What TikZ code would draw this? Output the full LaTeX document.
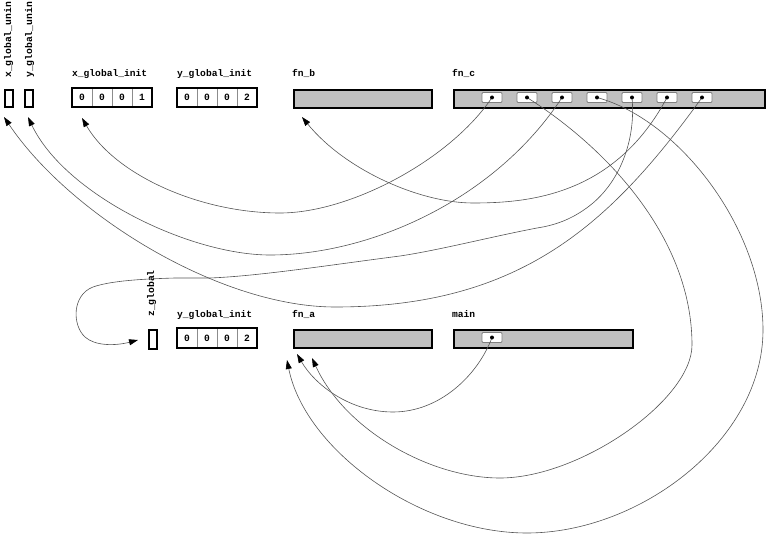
\documentclass[tikz,border=0pt]{standalone}
\usepackage{fontspec}
\setmonofont{Liberation Mono}
\usetikzlibrary{arrows.meta,fit}
\definecolor{boxgray}{RGB}{192,192,192}
\definecolor{linegray}{RGB}{85,85,85}
\definecolor{cellgray}{RGB}{140,140,140}
\begin{document}
\begin{tikzpicture}[x=1pt,y=-1pt,
  lbl/.style={font=\ttfamily\bfseries\fontsize{9.6}{11}\selectfont, inner sep=0pt},
  vlbl/.style={font=\ttfamily\bfseries\fontsize{9.7}{11}\selectfont, inner sep=0pt, rotate=90, anchor=base west},
  cellbox/.style={draw=cellgray, line width=0.6pt, minimum width=20pt, minimum height=19pt, inner sep=0pt,
    font=\ttfamily\bfseries\fontsize{9.6}{11}\selectfont},
  regbox/.style={draw=black, line width=2pt, inner sep=0pt},
  fnbox/.style={draw=black, fill=boxgray, line width=2pt, inner sep=0pt, anchor=north west},
  slotbox/.style={draw=black, line width=1.8pt, inner sep=0pt, anchor=north west, minimum width=8pt},
  ptrbox/.style={draw=gray, fill=white, line width=0.8pt, minimum width=20pt, minimum height=10pt,
    inner sep=0pt, rounded corners=1pt},
  conn/.style={draw=linegray, line width=0.6pt, -{Triangle[length=9pt,width=6pt,color=black]}}]
\useasboundingbox (0,0) rectangle (769,535);

% ---------- top row ----------
\node[slotbox, minimum height=17pt] (xgu) at (4,89) {};
\node[slotbox, minimum height=17pt] (ygu) at (24,89) {};
\node[vlbl] (lxgu) at (11,78) {x\_global\_unin};
\node[vlbl] (lygu) at (32,78) {y\_global\_unin};

\node[lbl, anchor=base west] (lxgi) at (72,77) {x\_global\_init};
\node[cellbox] (xgi1) at (82,97.5) {0};
\node[cellbox] (xgi2) at (102,97.5) {0};
\node[cellbox] (xgi3) at (122,97.5) {0};
\node[cellbox] (xgi4) at (142,97.5) {1};
\node[regbox, fit=(xgi1)(xgi4)] (xgi) {};

\node[lbl, anchor=base west] (lygi) at (177,77) {y\_global\_init};
\node[cellbox] (ygi1) at (187,97.5) {0};
\node[cellbox] (ygi2) at (207,97.5) {0};
\node[cellbox] (ygi3) at (227,97.5) {0};
\node[cellbox] (ygi4) at (247,97.5) {2};
\node[regbox, fit=(ygi1)(ygi4)] (ygi) {};

\node[lbl, anchor=base west] (lfnb) at (292,77) {fn\_b};
\node[fnbox, minimum width=138pt, minimum height=18pt] (fnb) at (293,89) {};

\node[lbl, anchor=base west] (lfnc) at (452,77) {fn\_c};
\node[fnbox, minimum width=311pt, minimum height=18pt] (fnc) at (453,89) {};
\node[ptrbox] (p1) at (492,97.5) {};
\node[ptrbox] (p2) at (527,97.5) {};
\node[ptrbox] (p3) at (562,97.5) {};
\node[ptrbox] (p4) at (597,97.5) {};
\node[ptrbox] (p5) at (632,97.5) {};
\node[ptrbox] (p6) at (667,97.5) {};
\node[ptrbox] (p7) at (702,97.5) {};

% ---------- bottom row ----------
\node[vlbl] (lzg) at (154,317) {z\_global};
\node[slotbox, minimum height=19pt] (zg) at (148,329) {};

\node[lbl, anchor=base west] (lygi2) at (177,317) {y\_global\_init};
\node[cellbox] (yhi1) at (187,338) {0};
\node[cellbox] (yhi2) at (207,338) {0};
\node[cellbox] (yhi3) at (227,338) {0};
\node[cellbox] (yhi4) at (247,338) {2};
\node[regbox, fit=(yhi1)(yhi4)] (ygib) {};

\node[lbl, anchor=base west] (lfna) at (292,317) {fn\_a};
\node[fnbox, minimum width=138pt, minimum height=18pt] (fna) at (293,329) {};

\node[lbl, anchor=base west] (lmain) at (452,317) {main};
\node[fnbox, minimum width=179pt, minimum height=18pt] (main) at (453,329) {};
\node[ptrbox] (pm) at (492,337.5) {};

% ---------- arrow targets ----------
\coordinate (txgu) at (4,117);
\coordinate (tygu) at (28,117);
\coordinate (txgi) at (82,118);
\coordinate (tfnb) at (302,117);
\coordinate (tzg) at (138,340);
\coordinate (tfnaA) at (287,360);
\coordinate (tfnaB) at (297,354);
\coordinate (tfnaC) at (312,358);

% ---------- connectors ----------
\draw[conn] (p1.center) .. controls (450,160) and (350,213) .. (280,213)
  .. controls (200,213) and (115,175) .. (txgi);
\draw[conn] (p2.center) .. controls (610,150) and (692,240) .. (692,345)
  .. controls (692,400) and (580,478) .. (500,478)
  .. controls (430,478) and (345,430) .. (tfnaC);
\draw[conn] (p3.center) .. controls (495,200) and (370,255) .. (270,255)
  .. controls (190,255) and (65,195) .. (tygu);
\draw[conn] (p4.center) .. controls (680,120) and (763,230) .. (763,330)
  .. controls (763,440) and (640,533) .. (527,533)
  .. controls (420,533) and (305,450) .. (tfnaA);
\draw[conn] (p5.center) .. controls (636,140) and (620,180) .. (593,203)
  .. controls (575,218) and (557,225) .. (537,228)
  .. controls (490,237) and (440,250) .. (400,256)
  .. controls (330,265) and (260,276) .. (210,278) -- (175,278)
  .. controls (140,279) and (110,281) .. (93,287)
  .. controls (72,295) and (72,325) .. (85,337)
  .. controls (95,346) and (115,346) .. (tzg);
\draw[conn] (p6.center) .. controls (615,195) and (530,203) .. (473,203)
  .. controls (420,203) and (345,170) .. (tfnb);
\draw[conn] (p7.center) .. controls (610,225) and (520,307) .. (335,307)
  .. controls (220,307) and (70,215) .. (txgu);
\draw[conn] (pm.center) .. controls (478,375) and (440,412) .. (393,412)
  .. controls (350,412) and (315,385) .. (tfnaB);

% ---------- pointer dots ----------
\foreach \p in {p1,p2,p3,p4,p5,p6,p7,pm}
  \fill (\p.center) circle (2pt);
\end{tikzpicture}
\end{document}
